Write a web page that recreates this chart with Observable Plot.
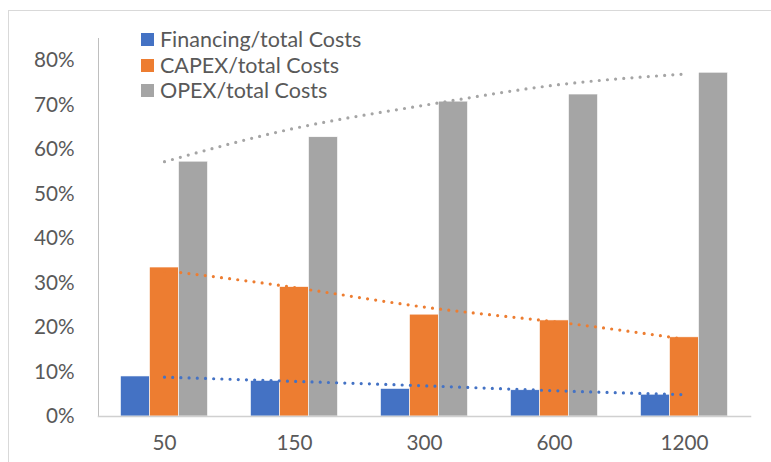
<!DOCTYPE html>
<html>
<head>
<meta charset="utf-8">
<script src="https://cdn.jsdelivr.net/npm/d3@7"></script>
<script src="https://cdn.jsdelivr.net/npm/@observablehq/plot@0.6"></script>
<style>
  html, body { margin: 0; padding: 0; background: #fff; }
  #wrap { position: relative; width: 771px; height: 462px; overflow: hidden; font-family: Lato, "Open Sans", sans-serif; }
  #frame { position: absolute; left: 8px; top: 10px; width: 800px; height: 500px; border: 1.5px solid #d9d9d9; box-sizing: border-box; }
  #chart { position: absolute; left: 0; top: 0; }
  #legend { position: absolute; left: 141px; top: 27px; color: #595959; font-size: 21.5px; line-height: 25.5px; }
  #legend .row { display: flex; align-items: center; white-space: nowrap; }
  #legend .sw { width: 13px; height: 13px; margin-right: 6px; }
</style>
</head>
<body>
<div id="wrap">
  <div id="frame"></div>
  <div id="chart"></div>
  <div id="legend"></div>
</div>
<script>
const categories = ["50", "150", "300", "600", "1200"];
const seriesNames = ["Financing/total Costs", "CAPEX/total Costs", "OPEX/total Costs"];
const seriesColors = ["#4472C4", "#ED7D31", "#A5A5A5"];
const financing = [0.090, 0.080, 0.062, 0.059, 0.049];
const capex = [0.335, 0.291, 0.229, 0.216, 0.178];
const opex = [0.573, 0.628, 0.708, 0.724, 0.773];
const financingTrend = [0.0885, 0.079, 0.069, 0.058, 0.049];
const capexTrend = [0.328, 0.290, 0.246, 0.213, 0.174];
const opexTrend = [0.573, 0.648, 0.700, 0.745, 0.770];
const yTicks = [0, 0.1, 0.2, 0.3, 0.4, 0.5, 0.6, 0.7, 0.8];

const seriesValues = [financing, capex, opex];
const seriesTrends = [financingTrend, capexTrend, opexTrend];
const offsets = [-29, 0, 29];

const toRows = (vals) => categories.map((c, i) => ({cat: c, value: vals[i]}));

const marks = [];
seriesValues.forEach((vals, s) => {
  marks.push(Plot.barY(toRows(vals), {
    x: "cat", y: "value", fill: seriesColors[s],
    dx: offsets[s], insetLeft: 50.5, insetRight: 50.5,
    stroke: "white", strokeWidth: 0.6
  }));
});
marks.push(Plot.frame({anchor: "left", stroke: "#bfbfbf", strokeWidth: 1}));
marks.push(Plot.frame({anchor: "bottom", stroke: "#d0d0d0", strokeWidth: 1.5}));
seriesTrends.forEach((vals, s) => {
  marks.push(Plot.line(toRows(vals), {
    x: "cat", y: "value", stroke: seriesColors[s],
    strokeWidth: 3.2, strokeDasharray: "0,8.2", strokeLinecap: "round",
    curve: "natural"
  }));
});
marks.push(Plot.axisY({ticks: yTicks, tickFormat: d3.format(".0%"), tickSize: 0, tickPadding: 24, label: null}));
marks.push(Plot.axisX({tickSize: 0, tickPadding: 19, label: null}));

const chart = Plot.plot({
  width: 771,
  height: 462,
  marginLeft: 98,
  marginRight: 21,
  marginTop: 38,
  marginBottom: 46,
  style: {fontFamily: "Lato, 'Open Sans', sans-serif", fontSize: "20.7px", color: "#595959", background: "transparent", overflow: "visible"},
  x: {domain: categories, padding: 0},
  y: {domain: [0, 0.85]},
  marks
});
document.getElementById("chart").appendChild(chart);

const legend = document.getElementById("legend");
seriesNames.forEach((name, i) => {
  const row = document.createElement("div");
  row.className = "row";
  const sw = document.createElement("span");
  sw.className = "sw";
  sw.style.background = seriesColors[i];
  const t = document.createElement("span");
  t.textContent = name;
  row.appendChild(sw);
  row.appendChild(t);
  legend.appendChild(row);
});
</script>
</body>
</html>
